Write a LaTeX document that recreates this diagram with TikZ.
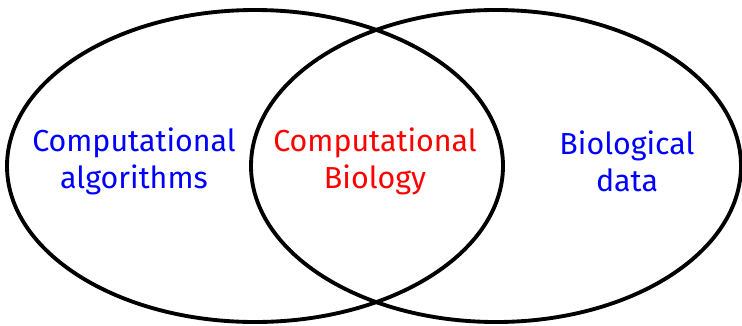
\documentclass[tikz,border=0pt]{standalone}
\usepackage{fontspec}
\setmainfont{Fira Sans}
\usepackage{xcolor}
\usepackage{tikz}
\usetikzlibrary{positioning}

\begin{document}
\begin{tikzpicture}[x=0.02cm, y=-0.02cm,
  every node/.style={font=\fontsize{17.3}{21}\selectfont, align=center},
  venn/.style={line width=2.2pt}]
  \useasboundingbox (0,0) rectangle (742,325);
  % Sets
  \draw[venn] (255,166) ellipse [x radius=248, y radius=156];
  \draw[venn] (496,166) ellipse [x radius=245, y radius=156];

  % Labels
  \node[text=blue] (algo) at (134,161) {Computational\\algorithms};
  \node[text=red]  (compbio) at (375,161) {Computational\\Biology};
  \node[text=blue] (biodata) at (627,161) {Biological\\data};
\end{tikzpicture}
\end{document}
